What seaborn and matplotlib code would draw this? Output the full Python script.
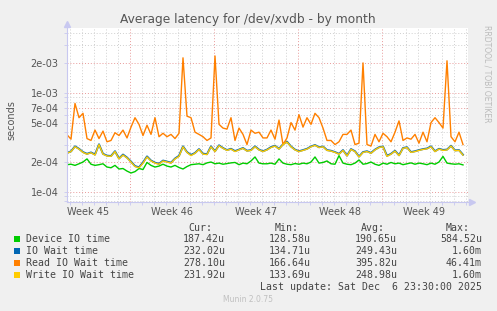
import numpy as np
import pandas as pd
import matplotlib
matplotlib.use('Agg')
import matplotlib.pyplot as plt
import matplotlib.transforms as mtransforms
from matplotlib.patches import Rectangle
from matplotlib.ticker import NullFormatter
import seaborn as sns

# one sample every 8 hours, values in microseconds
start_time = '2025-11-04 18:00'
device_io = [188, 190, 185, 192, 200, 215, 190, 185, 188, 192, 178, 175, 185, 170, 172, 162, 155, 160, 172, 168,
             198, 185, 178, 182, 190, 182, 178, 185, 176, 170, 180, 188, 190, 192, 188, 196, 200, 192, 195, 190,
             193, 196, 198, 188, 195, 192, 205, 225, 195, 192, 192, 195, 190, 215, 195, 190, 188, 193, 190, 195,
             192, 200, 225, 195, 198, 205, 192, 190, 232, 195, 190, 188, 195, 210, 190, 193, 200, 190, 185, 195,
             190, 198, 192, 195, 188, 192, 196, 190, 195, 192, 188, 195, 190, 200, 228, 195, 192, 190, 192, 187]
io_wait = [247, 256, 288, 272, 252, 242, 250, 238, 302, 242, 232, 230, 257, 217, 238, 222, 202, 182, 177, 198,
           228, 207, 197, 192, 207, 202, 197, 217, 231, 288, 252, 236, 247, 270, 243, 240, 288, 257, 295, 277,
           264, 272, 258, 267, 277, 260, 264, 288, 267, 257, 267, 283, 292, 272, 302, 321, 287, 267, 257, 264,
           272, 287, 297, 282, 287, 264, 260, 252, 242, 264, 232, 270, 257, 227, 252, 257, 247, 267, 282, 287,
           231, 242, 260, 234, 277, 282, 252, 257, 264, 270, 274, 288, 257, 272, 265, 267, 292, 262, 264, 237]
read_wait = [377, 340, 780, 560, 620, 345, 330, 420, 345, 410, 320, 330, 395, 370, 420, 350, 450, 560, 480, 370,
             470, 380, 560, 360, 390, 360, 380, 345, 390, 2250, 580, 560, 400, 380, 360, 330, 350, 2350, 480, 440,
             430, 560, 330, 440, 380, 300, 420, 390, 400, 350, 350, 420, 340, 530, 300, 350, 500, 420, 600, 450,
             560, 480, 620, 560, 440, 330, 330, 300, 320, 380, 380, 420, 300, 310, 2000, 300, 290, 380, 320, 390,
             360, 320, 400, 520, 330, 350, 340, 380, 310, 400, 320, 500, 560, 500, 440, 2100, 360, 320, 400, 300]
write_wait = [245, 255, 285, 270, 250, 240, 248, 235, 300, 240, 230, 228, 255, 215, 235, 220, 200, 180, 175, 195,
              225, 205, 195, 190, 205, 200, 195, 215, 228, 285, 250, 232, 245, 268, 240, 238, 285, 255, 292, 275,
              262, 270, 255, 265, 275, 258, 262, 285, 265, 255, 265, 280, 290, 270, 300, 318, 285, 265, 255, 262,
              270, 285, 295, 280, 285, 262, 258, 250, 240, 262, 230, 268, 255, 225, 250, 255, 245, 265, 280, 285,
              228, 240, 258, 232, 275, 280, 250, 255, 262, 268, 272, 285, 255, 270, 262, 265, 290, 260, 262, 235]

series_names = ['Device IO time', 'IO Wait time', 'Read IO Wait time', 'Write IO Wait time']
series_colors = ['#00CC00', '#0066B3', '#FF8000', '#FFCC00']
line_widths = [1.0, 1.4, 1.0, 1.0]
cur_vals = ['187.42u', '232.02u', '278.10u', '231.92u']
min_vals = ['128.58u', '134.71u', '166.64u', '133.69u']
avg_vals = ['190.65u', '249.43u', '395.82u', '248.98u']
max_vals = ['584.52u', '1.60m', '46.41m', '1.60m']
week_labels = ['Week 45', 'Week 46', 'Week 47', 'Week 48', 'Week 49']
week_mid = ['2025-11-06 12:00', '2025-11-13 12:00', '2025-11-20 12:00', '2025-11-27 12:00', '2025-12-04 12:00']
y_major = [1e-4, 2e-4, 5e-4, 7e-4, 1e-3, 2e-3]
y_minor = [8e-5, 9e-5, 3e-4, 4e-4, 6e-4, 8e-4, 9e-4, 3e-3, 4e-3]

times = pd.date_range(start_time, periods=len(device_io), freq='8h')
df = pd.DataFrame({'time': times})
for name, vals in zip(series_names, [device_io, io_wait, read_wait, write_wait]):
    df[name] = np.array(vals) / 1e6

W, H = 497, 311
fig = plt.figure(figsize=(W / 100, H / 100), dpi=100, facecolor='#F0F0F0')
ax = fig.add_axes([67 / W, (H - 202) / H, 401 / W, 174 / H])
ax.set_facecolor('white')
ax.set_yscale('log')

for name, color, lw in zip(series_names, series_colors, line_widths):
    sns.lineplot(data=df, x='time', y=name, color=color, linewidth=lw, ax=ax, legend=False, estimator=None)

ax.set_xlim(pd.Timestamp('2025-11-04 18:00'), pd.Timestamp('2025-12-08 04:00'))
ax.set_ylim(7.9e-5, 4.5e-3)

# grid
ax.set_xticks(pd.date_range('2025-11-10', '2025-12-01', freq='7D'))
ax.set_xticks(pd.date_range('2025-11-05', '2025-12-08', freq='D'), minor=True)
ax.set_xticklabels([])
ax.set_yticks(y_major)
ax.set_yticklabels(['%.0e' % v for v in y_major])
ax.set_yticks(y_minor, minor=True)
ax.yaxis.set_minor_formatter(NullFormatter())
ax.set_axisbelow(True)
ax.grid(which='minor', color='#CFCFCF', linestyle=(0, (1, 2)), linewidth=0.7)
ax.grid(which='major', color='#E89A9A', linestyle=(0, (1, 2)), linewidth=0.7)
ax.tick_params(which='both', length=2, width=0.6, color='#C8C8F0', labelsize=7, labelcolor='#555555', pad=4)
ax.set_xlabel('')
ax.set_ylabel('')

for s in ['top', 'right']:
    ax.spines[s].set_visible(False)
for s in ['left', 'bottom']:
    ax.spines[s].set_color('#C8C8F0')
    ax.spines[s].set_linewidth(0.8)
ax.plot([0], [1.025], marker='^', ms=4, color='#C8C8F0', transform=ax.transAxes, clip_on=False)
ax.plot([1.01], [0], marker='>', ms=4, color='#C8C8F0', transform=ax.transAxes, clip_on=False)

trans = mtransforms.blended_transform_factory(ax.transData, ax.transAxes)
for lab, mid in zip(week_labels, week_mid):
    ax.text(pd.Timestamp(mid), -10 / 174, lab, transform=trans, ha='center', va='center',
            fontsize=7, color='#555555')

fig.text(248 / W, 1 - 19 / H, 'Average latency for /dev/xvdb - by month', ha='center', va='center',
         fontsize=8.8, color='#555555')
fig.text(11 / W, 1 - 120 / H, 'seconds', rotation=90, ha='center', va='center', fontsize=7, color='#555555')
fig.text(487 / W, 1 - 25 / H, 'RRDTOOL / TOBI OETIKER', rotation=270, ha='center', va='top',
         fontsize=5.5, color='#BBBBBB')

# legend block
mono = 'DejaVu Sans Mono'
fs = 7.1
col_right = [225, 311, 397, 482]
headers = ['Cur:', 'Min:', 'Avg:', 'Max:']
for h, xr in zip(headers, col_right):
    fig.text((xr - 12.5) / W, 1 - 227.7 / H, h, ha='right', va='center', fontsize=fs, family=mono, color='#444444')
for i, name in enumerate(series_names):
    yc = 239.3 + 12 * i
    fig.patches.append(Rectangle((14 / W, 1 - (yc + 3) / H), 6 / W, 6 / H, transform=fig.transFigure,
                                 facecolor=series_colors[i], edgecolor='none'))
    fig.text(26 / W, 1 - yc / H, name, ha='left', va='center', fontsize=fs, family=mono, color='#444444')
    for vals, xr in zip([cur_vals, min_vals, avg_vals, max_vals], col_right):
        fig.text(xr / W, 1 - yc / H, vals[i], ha='right', va='center', fontsize=fs, family=mono, color='#444444')
fig.text(482 / W, 1 - 287.3 / H, 'Last update: Sat Dec  6 23:30:00 2025', ha='right', va='center',
         fontsize=fs, family=mono, color='#444444')
fig.text(248 / W, 1 - 300 / H, 'Munin 2.0.75', ha='center', va='center', fontsize=5.5, color='#C0C0C0')

fig.savefig('out.png', dpi=100, facecolor=fig.get_facecolor())
